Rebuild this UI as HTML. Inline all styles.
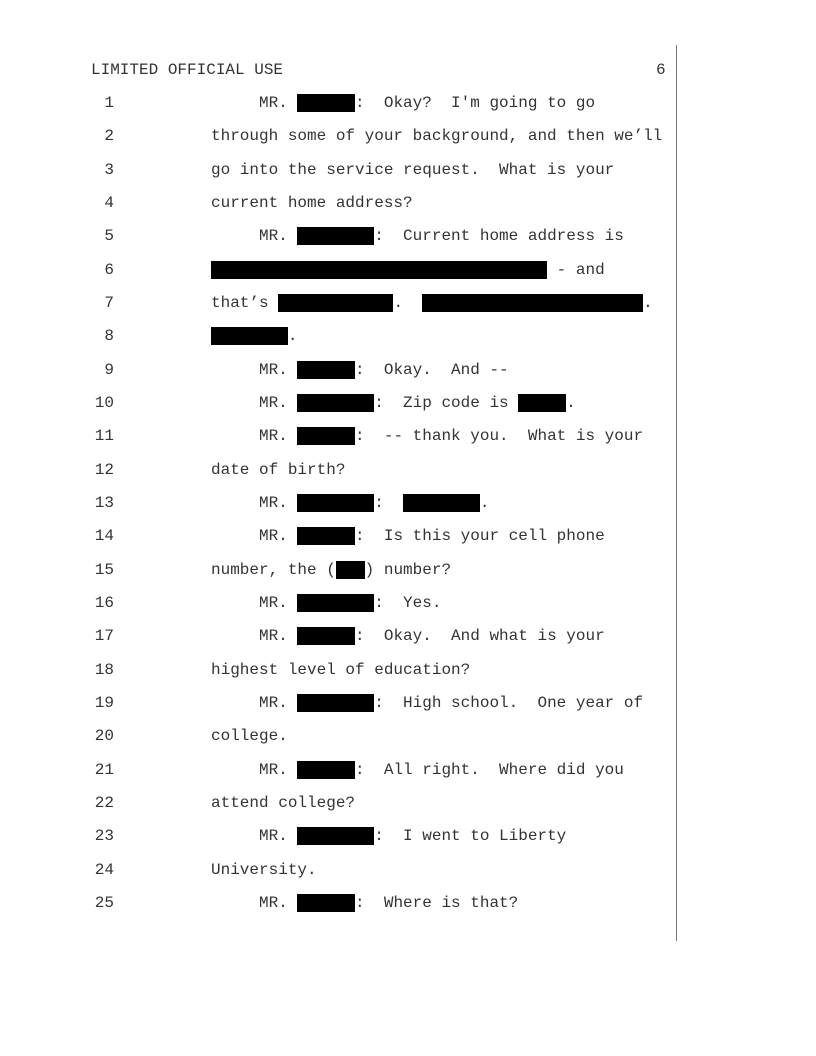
<!DOCTYPE html>
<html><head><meta charset="utf-8"><style>
body{margin:0;width:816px;height:1056px;background:#fff;position:relative;font-family:"Liberation Mono",monospace;font-size:16px;color:#333;}
.l{position:absolute;left:0;height:18px;line-height:18px;white-space:pre;}
.n{position:absolute;left:60px;width:54px;text-align:right;}
.t{position:absolute;left:211px;}
.b{background:#000;}
#v{position:absolute;left:676px;top:45px;width:1px;height:896px;background:#777;}
</style></head><body>
<div class="l" style="top:61px"><span style="position:absolute;left:91px">LIMITED OFFICIAL USE</span><span style="position:absolute;left:656px">6</span></div>
<div id="v"></div>
<div class="l" style="top:94px"><span class="n">1</span><span class="t">     MR. <span class="b">      </span>:  Okay?  I'm going to go</span></div>
<div class="l" style="top:127px"><span class="n">2</span><span class="t">through some of your background, and then we’ll</span></div>
<div class="l" style="top:161px"><span class="n">3</span><span class="t">go into the service request.  What is your</span></div>
<div class="l" style="top:194px"><span class="n">4</span><span class="t">current home address?</span></div>
<div class="l" style="top:227px"><span class="n">5</span><span class="t">     MR. <span class="b">        </span>:  Current home address is</span></div>
<div class="l" style="top:261px"><span class="n">6</span><span class="t"><span class="b">                                   </span> - and</span></div>
<div class="l" style="top:294px"><span class="n">7</span><span class="t">that’s <span class="b">            </span>.  <span class="b">                       </span>.</span></div>
<div class="l" style="top:327px"><span class="n">8</span><span class="t"><span class="b">        </span>.</span></div>
<div class="l" style="top:361px"><span class="n">9</span><span class="t">     MR. <span class="b">      </span>:  Okay.  And --</span></div>
<div class="l" style="top:394px"><span class="n">10</span><span class="t">     MR. <span class="b">        </span>:  Zip code is <span class="b">     </span>.</span></div>
<div class="l" style="top:427px"><span class="n">11</span><span class="t">     MR. <span class="b">      </span>:  -- thank you.  What is your</span></div>
<div class="l" style="top:461px"><span class="n">12</span><span class="t">date of birth?</span></div>
<div class="l" style="top:494px"><span class="n">13</span><span class="t">     MR. <span class="b">        </span>:  <span class="b">        </span>.</span></div>
<div class="l" style="top:527px"><span class="n">14</span><span class="t">     MR. <span class="b">      </span>:  Is this your cell phone</span></div>
<div class="l" style="top:561px"><span class="n">15</span><span class="t">number, the (<span class="b">   </span>) number?</span></div>
<div class="l" style="top:594px"><span class="n">16</span><span class="t">     MR. <span class="b">        </span>:  Yes.</span></div>
<div class="l" style="top:627px"><span class="n">17</span><span class="t">     MR. <span class="b">      </span>:  Okay.  And what is your</span></div>
<div class="l" style="top:661px"><span class="n">18</span><span class="t">highest level of education?</span></div>
<div class="l" style="top:694px"><span class="n">19</span><span class="t">     MR. <span class="b">        </span>:  High school.  One year of</span></div>
<div class="l" style="top:727px"><span class="n">20</span><span class="t">college.</span></div>
<div class="l" style="top:761px"><span class="n">21</span><span class="t">     MR. <span class="b">      </span>:  All right.  Where did you</span></div>
<div class="l" style="top:794px"><span class="n">22</span><span class="t">attend college?</span></div>
<div class="l" style="top:827px"><span class="n">23</span><span class="t">     MR. <span class="b">        </span>:  I went to Liberty</span></div>
<div class="l" style="top:861px"><span class="n">24</span><span class="t">University.</span></div>
<div class="l" style="top:894px"><span class="n">25</span><span class="t">     MR. <span class="b">      </span>:  Where is that?</span></div>
</body></html>
